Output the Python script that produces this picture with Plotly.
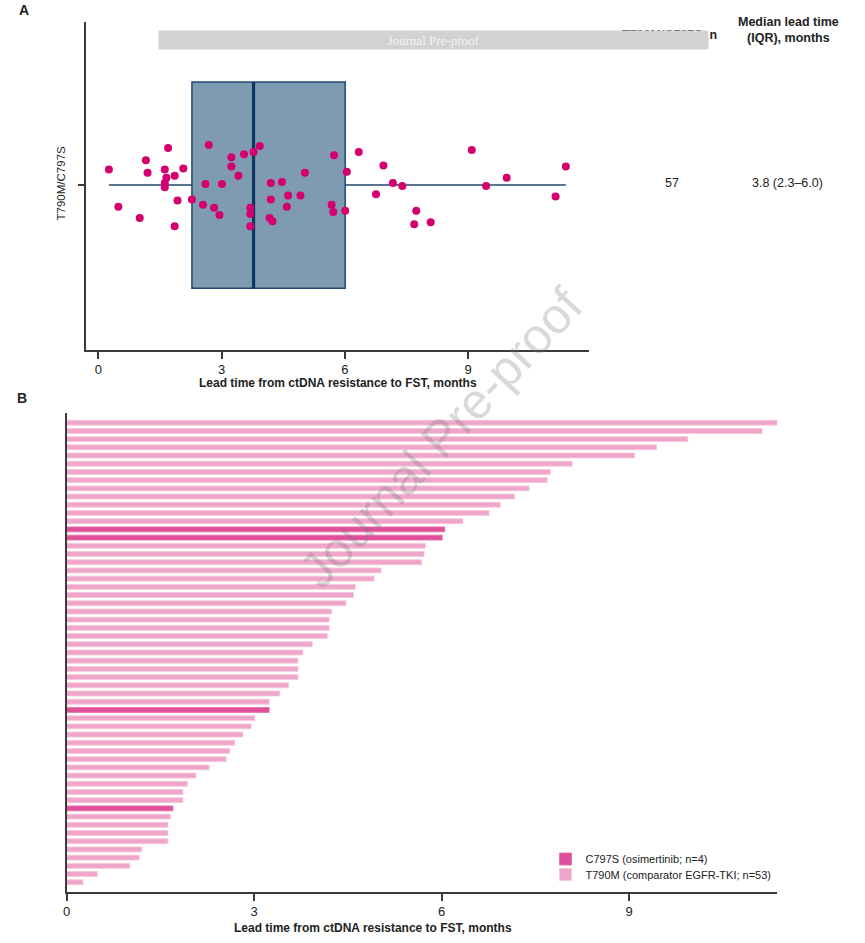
import numpy as np
import plotly.graph_objects as go

# ---- data ----
# lead time from ctDNA resistance to FST, months, ascending (one per patient)
LEAD_TIME_MONTHS = [
    0.26, 0.49, 1.01, 1.16, 1.20, 1.62, 1.62, 1.62, 1.66, 1.70,
    1.86, 1.86, 1.93, 2.07, 2.28, 2.55, 2.61, 2.69, 2.82, 2.95,
    3.01, 3.24, 3.24, 3.41, 3.55, 3.70, 3.70, 3.70, 3.78, 3.93,
    4.17, 4.20, 4.20, 4.24, 4.47, 4.59, 4.62, 4.92, 5.03, 5.68,
    5.72, 5.74, 6.01, 6.05, 6.34, 6.76, 6.94, 7.17, 7.40, 7.69,
    7.74, 8.09, 9.09, 9.44, 9.94, 11.13, 11.38,
]
MUTATION = (
    ["T790M"] * 9 + ["C797S"] + ["T790M"] * 11 + ["C797S"] + ["T790M"] * 20
    + ["C797S", "C797S"] + ["T790M"] * 13
)
# vertical jitter of the dots in panel A (box half-height = 1)
JITTER = [
    0.15, -0.21, -0.32, 0.24, 0.12, 0.15, 0.02, -0.02, 0.07, 0.36,
    0.09, -0.40, -0.15, 0.16, -0.14, -0.19, 0.01, 0.39, -0.22, -0.29,
    0.01, 0.27, 0.18, 0.09, 0.30, -0.22, -0.28, -0.40, 0.32, 0.38,
    -0.32, 0.02, -0.14, -0.35, 0.03, -0.21, -0.10, -0.10, 0.12, -0.19,
    -0.26, 0.29, -0.25, 0.13, 0.32, -0.09, 0.19, 0.02, -0.01, -0.38,
    -0.25, -0.36, 0.34, -0.01, 0.07, -0.11, 0.18,
]
GROUP_LABEL = "T790M/C797S"
X_TICKS = [0, 3, 6, 9]
X_TITLE = "Lead time from ctDNA resistance to FST, months"
LEGEND_NAMES = {"C797S": "C797S (osimertinib; n={})",
                "T790M": "T790M (comparator EGFR-TKI; n={})"}

W, H = 865, 943
FONT = "Liberation Sans, Arial, sans-serif"
AXIS_COL = "#3a3a3a"
BAR_COL = {"C797S": "#e0509a", "T790M": "#efa6ca"}
BAR_EDGE = {"C797S": "#e36aa8", "T790M": "#f6c6de"}


def px(x):
    return x / W


def py(y):
    return 1 - y / H


lead = np.array(LEAD_TIME_MONTHS)
mut = np.array(MUTATION)
q1, med, q3 = np.percentile(lead, [25, 50, 75])

fig = go.Figure()

# ---- panel A: box + jittered dots ----
fig.add_trace(go.Box(
    y=[0], q1=[q1], median=[med], q3=[q3],
    lowerfence=[lead.min()], upperfence=[lead.max()],
    orientation="h", width=2, whiskerwidth=0,
    fillcolor="#7f9bb1", line=dict(color="#22496e", width=1.5),
    boxpoints=False, hoverinfo="skip", showlegend=False,
    xaxis="x", yaxis="y",
))
fig.add_trace(go.Scatter(
    x=[med, med], y=[-1, 1], mode="lines",
    line=dict(color="#0d3760", width=3.2),
    hoverinfo="skip", showlegend=False, xaxis="x", yaxis="y",
))
fig.add_trace(go.Scatter(
    x=lead, y=JITTER, mode="markers",
    marker=dict(color="#d4006f", size=8),
    showlegend=False, xaxis="x", yaxis="y",
))

# ---- panel B: sorted horizontal bars ----
idx = np.arange(len(lead))
for m, lg in [("C797S", "legend"), ("T790M", "legend2")]:
    sel = mut == m
    fig.add_trace(go.Bar(
        x=lead[sel], y=idx[sel], orientation="h", width=0.6,
        marker=dict(color=BAR_COL[m], line=dict(color=BAR_EDGE[m], width=0.8)),
        name=LEGEND_NAMES[m].format(int(sel.sum())),
        xaxis="x2", yaxis="y2", legend=lg,
    ))

axis_common = dict(
    showline=True, linecolor=AXIS_COL, linewidth=1.6,
    ticks="outside", ticklen=7, tickwidth=1.5, tickcolor=AXIS_COL,
    showgrid=False, zeroline=False,
    tickfont=dict(family=FONT, size=13, color="#222"),
)
legend_common = dict(
    x=px(544), xanchor="left", yanchor="middle",
    font=dict(family=FONT, size=11, color="#222"),
    bgcolor="rgba(0,0,0,0)", itemwidth=30,
)

fig.update_layout(
    width=W, height=H,
    margin=dict(l=0, r=0, t=0, b=0),
    paper_bgcolor="white", plot_bgcolor="white",
    font=dict(family=FONT, color="#222"),
    barmode="overlay",
    xaxis=dict(axis_common, domain=[px(82.7), px(588)], range=[-0.29, 11.95],
               tickvals=X_TICKS, anchor="y"),
    yaxis=dict(axis_common, domain=[py(350), py(21.7)], range=[-1.6, 1.585],
               tickvals=[0], ticktext=[GROUP_LABEL], tickangle=-90,
               ticklabelstandoff=8,
               tickfont=dict(family=FONT, size=11.5, color="#222"),
               anchor="x"),
    xaxis2=dict(axis_common, domain=[px(63), px(776.7)], range=[0, 11.37],
                tickvals=X_TICKS, anchor="y2"),
    yaxis2=dict(showline=True, linecolor=AXIS_COL, linewidth=1.6,
                showgrid=False, zeroline=False, showticklabels=False,
                ticks="", domain=[py(891.7), py(412.7)], range=[-1.15, 57.22],
                anchor="x2"),
    legend=dict(legend_common, y=py(859)),
    legend2=dict(legend_common, y=py(874.5)),
)

n_total = len(lead)
ann = [
    dict(text="<b>A</b>", x=px(20), y=py(10), font=dict(size=14)),
    dict(text="<b>B</b>", x=px(18), y=py(398), font=dict(size=14)),
    dict(text=f"<b>{X_TITLE}</b>", x=px(335.3), y=py(383), font=dict(size=12)),
    dict(text=f"<b>{X_TITLE}</b>", x=px(371), y=py(928), font=dict(size=12)),
    dict(text="<b>Median lead time<br>(IQR), months</b>", x=px(788), y=py(30),
         font=dict(size=12.5)),
    dict(text=f"<b>{GROUP_LABEL}, n</b>", x=px(718), y=py(35), xanchor="right",
         font=dict(size=12.5)),
    dict(text=str(n_total), x=px(671), y=py(183), font=dict(size=12.5)),
    dict(text=f"{med:.1f} ({q1:.1f}\u2013{q3:.1f})", x=px(787), y=py(183),
         font=dict(size=12.5)),
    # pre-proof banner covering the group header
    dict(text="Journal Pre-proof", x=px(431.3), y=py(40.3), width=549, height=18,
         bgcolor="#d1d2d4", borderpad=0,
         font=dict(family="Liberation Serif, Times New Roman, serif",
                   size=13, color="#f4f4f4")),
    # diagonal watermark
    dict(text="Journal Pre-proof", x=px(439), y=py(438), textangle=-47,
         font=dict(size=50, color="rgba(120,120,120,0.28)")),
]
for a in ann:
    a.setdefault("xanchor", "center")
    a.setdefault("yanchor", "middle")
    fig.add_annotation(xref="paper", yref="paper", showarrow=False, **a)

# drop the browser's default body margin so the figure fills the window
fig.write_html("out.html", config={"displayModeBar": False},
               post_script="document.body.style.margin = '0px';")
